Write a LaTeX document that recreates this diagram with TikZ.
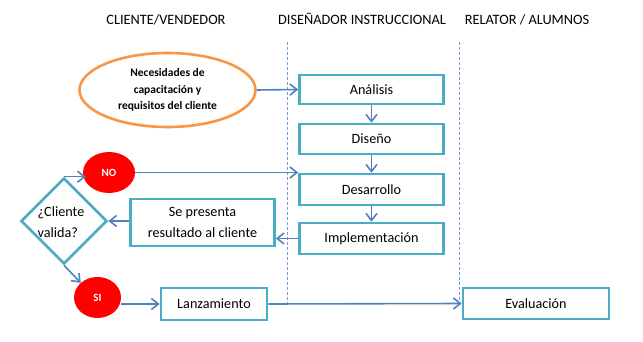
\documentclass[tikz,border=0pt]{standalone}
\usepackage{fontspec}
\setmainfont{Carlito}
\usetikzlibrary{arrows.meta,shapes.geometric,calc}
\definecolor{boxc}{HTML}{4BACC6}
\definecolor{arrc}{HTML}{4F81BD}
\definecolor{orng}{HTML}{F79646}
\definecolor{dashc}{HTML}{6F9AD2}
\begin{document}
\begin{tikzpicture}[x=1pt,y=-1pt,
  stepbox/.style={draw=boxc, line width=2.6pt, fill=white, inner sep=0pt,
    font=\fontsize{14.2}{20.5}\selectfont, align=center},
  hdr/.style={anchor=base, inner sep=0pt, font=\fontsize{14.3}{16}\selectfont},
  arr/.style={draw=arrc, line width=1.6pt, -{Straight Barb[length=7pt,width=11pt,line width=1.6pt]}},
  lane/.style={draw=dashc, line width=0.8pt, dash pattern=on 3pt off 2pt},
  redc/.style={ellipse, fill=red, inner sep=0pt, text=white, font=\bfseries\fontsize{11}{13}\selectfont}
]
\useasboundingbox (0,0) rectangle (643,342);
% headers
\node[hdr] (h1) at (166,25) {CLIENTE/VENDEDOR};
\node[hdr] (h2) at (362,25) {DISEÑADOR INSTRUCCIONAL};
\node[hdr] (h3) at (527,25) {RELATOR / ALUMNOS};
% lane lines
\coordinate (l1a) at (287,42); \coordinate (l1b) at (287,305);
\coordinate (l2a) at (459,42); \coordinate (l2b) at (459,300);
\draw[lane] (l1a) -- (l1b);
\draw[lane] (l2a) -- (l2b);
% ellipse
\node[ellipse, draw=orng, line width=2.6pt, fill=white, minimum width=176pt, minimum height=74pt, inner sep=0pt,
  align=center, font=\bfseries\fontsize{11.5}{16.5}\selectfont] (ell) at (167.5,90) {Necesidades de\\capacitación y\\requisitos del cliente};
% design column
\node[stepbox, minimum width=144pt, minimum height=29pt] (ana) at (371.5,89.5) {Análisis};
\node[stepbox, minimum width=144pt, minimum height=30pt] (dis) at (371.5,139) {Diseño};
\node[stepbox, minimum width=144pt, minimum height=31pt] (des) at (371.5,189.5) {Desarrollo};
\node[stepbox, minimum width=144pt, minimum height=31pt] (imp) at (371.5,238.5) {Implementación};
% client column
\node[stepbox, minimum width=144pt, minimum height=47pt] (pres) at (202.5,222.5) {Se presenta\\resultado al cliente};
\node[diamond, draw=boxc, line width=2.6pt, fill=white, minimum width=86pt, minimum height=86pt, inner sep=0pt] (dia) at (64,221) {};
\node[align=left, inner sep=0pt, font=\fontsize{14.2}{20.5}\selectfont] (diat) at (61,222) {¿Cliente\\valida?};
\node[redc, minimum width=52pt, minimum height=41pt] (no) at (109,172.5) {NO};
\node[redc, minimum width=47pt, minimum height=41pt] (si) at (97.5,297.5) {SI};
\node[stepbox, minimum width=106pt, minimum height=32pt] (lan) at (214,304) {Lanzamiento};
\node[stepbox, minimum width=146pt, minimum height=31pt] (eva) at (536,303.5) {Evaluación};
% connectors
\draw[arr] (ell.east) -- (ana.west);
\draw[arr] (ana.south) -- (dis.north);
\draw[arr] (dis.south) -- (des.north);
\draw[arr] (des.south) -- (imp.north);
\draw[arr] (no.east) -- (no.east -| des.west);
\draw[arr] (imp.west) -- (imp.west -| pres.east);
\draw[arr] (pres.west |- dia.east) -- (dia.east);
\draw[arr] (dia.north) -- ($(dia.north -| no.west)+(3,0)$);
\draw[arr] (dia.south) -- (si.north west);
\draw[arr] (si.east |- lan.west) -- (lan.west);
\draw[arr] (lan.east) -- (eva.west);
\end{tikzpicture}
\end{document}
